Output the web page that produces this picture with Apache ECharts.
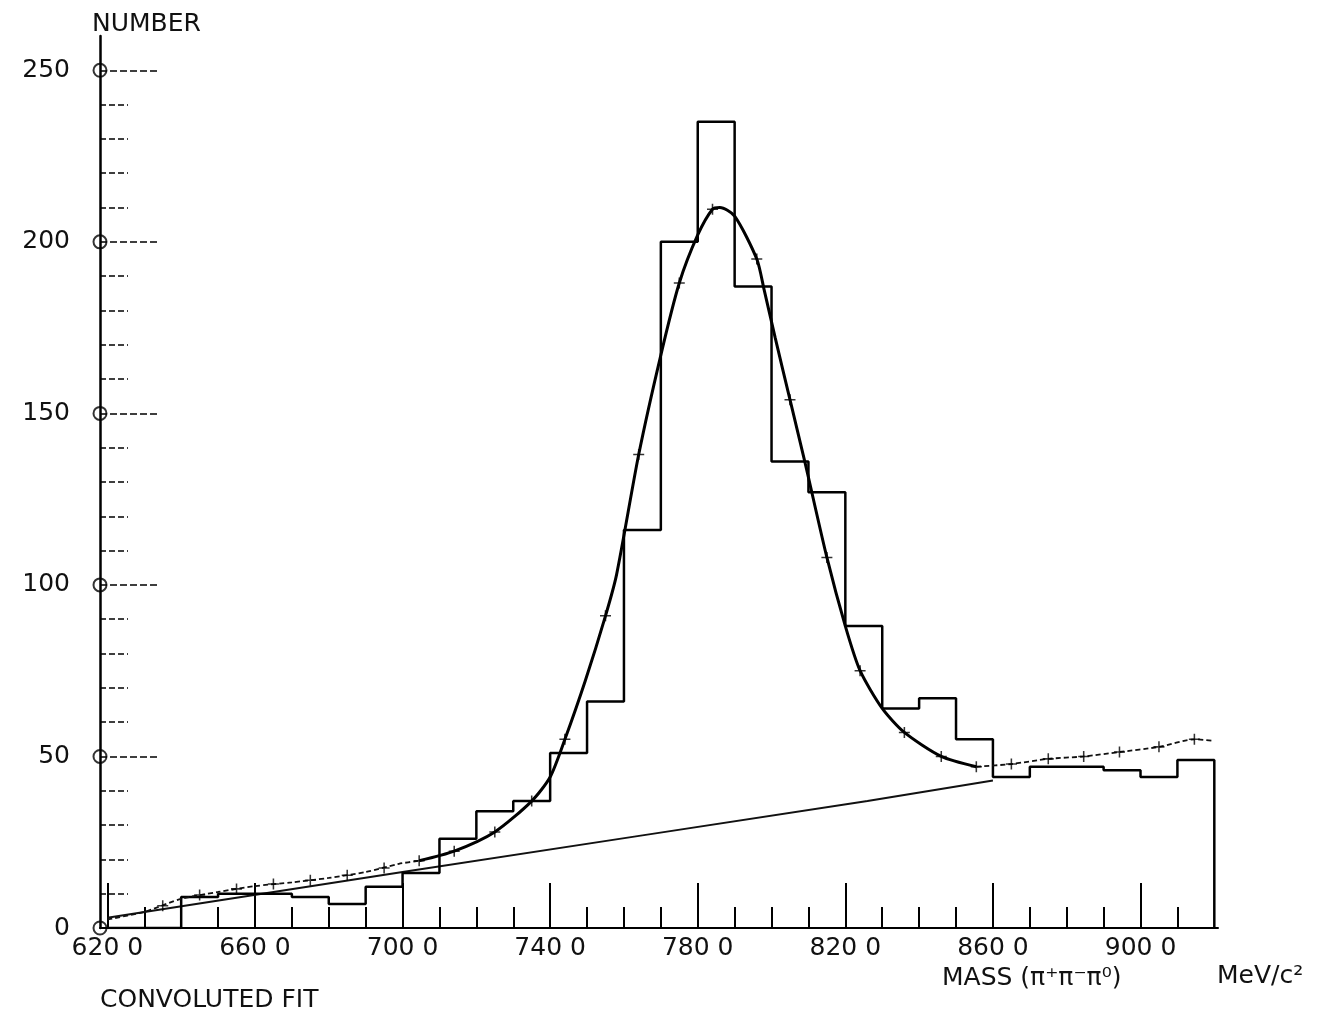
<!DOCTYPE html>
<html><head><meta charset="utf-8">
<script src="https://cdn.jsdelivr.net/npm/echarts@6/dist/echarts.min.js"></script>
<style>html,body{margin:0;padding:0;background:#fff}#c{width:1319px;height:1016px}</style>
</head><body><div id="c"></div>
<script>
// Histogram: bin lower edges (MeV/c^2) and counts
const binEdges = [620,630,640,650,660,670,680,690,700,710,720,730,740,750,760,770,780,790,800,810,820,830,840,850,860,870,880,890,900,910];
const binCounts = [0,0,9,10,10,9,7,12,16,26,34,37,51,66,116,200,235,187,136,127,88,64,67,55,44,47,47,46,44,49];
const binEnd = 920;

// Convoluted fit curve
const fitMass  = [620,630,640,650,660,670,680,690,699,704.5,714,725,735,740,744,749.5,755,758,764,770,775,780,784,786,790,796,798,801,805,809,815,820,824,830,836,846,855.5,865,875,884.6,894.3,905,914.6,920];
const fitValue = [2.5,4.7,8.5,10.5,12.2,13.3,14.6,16.3,18.7,19.6,22.4,28,37,44,55,72,91,103,138,167,188,202,209.5,210,207.5,195,186,172,154,136,108,88,75,64,57,50,47,47.8,49.3,50,51.3,52.8,55,54.5];

// "+" markers drawn on the fit
const markMass  = [635,645,655,665,675,685,695,704.5,714,725,735,744,755,764,775,784,796,805,815,824,836,846,855.5,865,875,884.6,894.3,905,914.6];
const markValue = [6.5,9.6,11.4,12.8,13.9,15.4,17.5,19.6,22.4,28,37,55,91,138,188,209.5,195,154,108,75,57,50,47,47.8,49.3,50,51.3,52.8,55];

// Linear background
const bgMass  = [620,700,765,826,860];
const bgValue = [3,16.3,27,37,43];

// Axis ticks and labels
const yLabelTicks = [0,50,100,150,200,250];
const yMinorTicks = [10,20,30,40,60,70,80,90,110,120,130,140,160,170,180,190,210,220,230,240];
const xMajorTicks = [620,660,700,740,780,820,860,900];
const xTickLabels = ['620 0','660 0','700 0','740 0','780 0','820 0','860 0','900 0'];
const xMinorTicks = [630,640,650,670,680,690,710,720,730,750,760,770,790,800,810,830,840,850,870,880,890,910];

const FONT = 'DejaVu Sans';
const histData = binEdges.map((e,i)=>[e,binCounts[i]]).concat([[binEnd,0]]);
const fitPts = fitMass.map((m,i)=>[m,fitValue[i]]);
const fitLeft = fitPts.filter(p=>p[0]<=704.5);
const fitCore = fitPts.filter(p=>p[0]>=704.5 && p[0]<=855.5);
const fitRight = fitPts.filter(p=>p[0]>=855.5);
const X0 = 618, X1 = 921;

const chart = echarts.init(document.getElementById('c'), null, {renderer:'canvas'});
chart.setOption({
  animation:false,
  backgroundColor:'#fff',
  grid:{left:100,right:101,top:36,bottom:88},
  xAxis:[
    {type:'value',min:X0,max:X1,position:'bottom',
     axisLine:{show:true,lineStyle:{color:'#000',width:2}},
     axisTick:{show:true,inside:true,length:21,customValues:xMinorTicks,lineStyle:{color:'#000',width:2}},
     axisLabel:{show:false},splitLine:{show:false}},
    {type:'value',min:X0,max:X1,position:'bottom',
     axisLine:{show:false},
     axisTick:{show:true,inside:true,length:45,customValues:xMajorTicks,lineStyle:{color:'#000',width:2}},
     axisLabel:{show:true,customValues:xMajorTicks,margin:8,color:'#111',fontFamily:FONT,fontSize:25,
       formatter:v=>xTickLabels[xMajorTicks.indexOf(v)]},
     splitLine:{show:false}}
  ],
  yAxis:[
    {type:'value',min:0,max:260,position:'left',
     axisLine:{show:true,lineStyle:{color:'#000',width:2.5}},
     axisTick:{show:true,inside:true,length:28,customValues:yMinorTicks,lineStyle:{color:'#000',width:1.5,type:[6,3]}},
     axisLabel:{show:false},splitLine:{show:false}},
    {type:'value',min:0,max:260,position:'left',
     axisLine:{show:false},
     axisTick:{show:true,inside:true,length:57,customValues:yLabelTicks,lineStyle:{color:'#000',width:1.5,type:[7,3]}},
     axisLabel:{show:true,customValues:yLabelTicks,margin:30,color:'#111',fontFamily:FONT,fontSize:25},
     splitLine:{show:false}}
  ],
  series:[
    {type:'line',name:'data',data:histData,step:'end',symbol:'none',
     lineStyle:{color:'#000',width:2.5},z:3},
    {type:'line',name:'background',data:bgMass.map((m,i)=>[m,bgValue[i]]),symbol:'none',
     lineStyle:{color:'#111',width:2},z:2},
    {type:'line',name:'fit',data:fitCore,symbol:'none',smooth:0.25,
     lineStyle:{color:'#000',width:3},z:4},
    {type:'line',name:'fitL',data:fitLeft,symbol:'none',smooth:0.25,
     lineStyle:{color:'#111',width:1.8,type:[5,3]},z:4},
    {type:'line',name:'fitR',data:fitRight,symbol:'none',smooth:0.25,
     lineStyle:{color:'#111',width:1.8,type:[5,3]},z:4},
    {type:'scatter',name:'marks',data:markMass.map((m,i)=>[m,markValue[i]]),
     symbol:'path://M4.3,0H5.7V4.3H10V5.7H5.7V10H4.3V5.7H0V4.3H4.3Z',symbolSize:11,
     itemStyle:{color:'#000'},z:5},
    {type:'scatter',name:'axisCircles',data:yLabelTicks.map(v=>[X0,v]),clip:false,
     symbol:'circle',symbolSize:13,itemStyle:{color:'rgba(255,255,255,0)',borderColor:'#000',borderWidth:2},z:6}
  ],
  graphic:[
    {type:'text',left:92,top:12,style:{text:'NUMBER',font:'25px "DejaVu Sans"',fill:'#111'}},
    {type:'text',left:100,top:988,style:{text:'CONVOLUTED FIT',font:'25px "DejaVu Sans"',fill:'#111'}},
    {type:'text',left:942,top:966,style:{text:'MASS (π⁺π⁻π⁰)',font:'25px "DejaVu Sans"',fill:'#111'}},
    {type:'text',left:1217,top:964,style:{text:'MeV/c²',font:'25px "DejaVu Sans"',fill:'#111'}}
  ]
});
</script></body></html>
